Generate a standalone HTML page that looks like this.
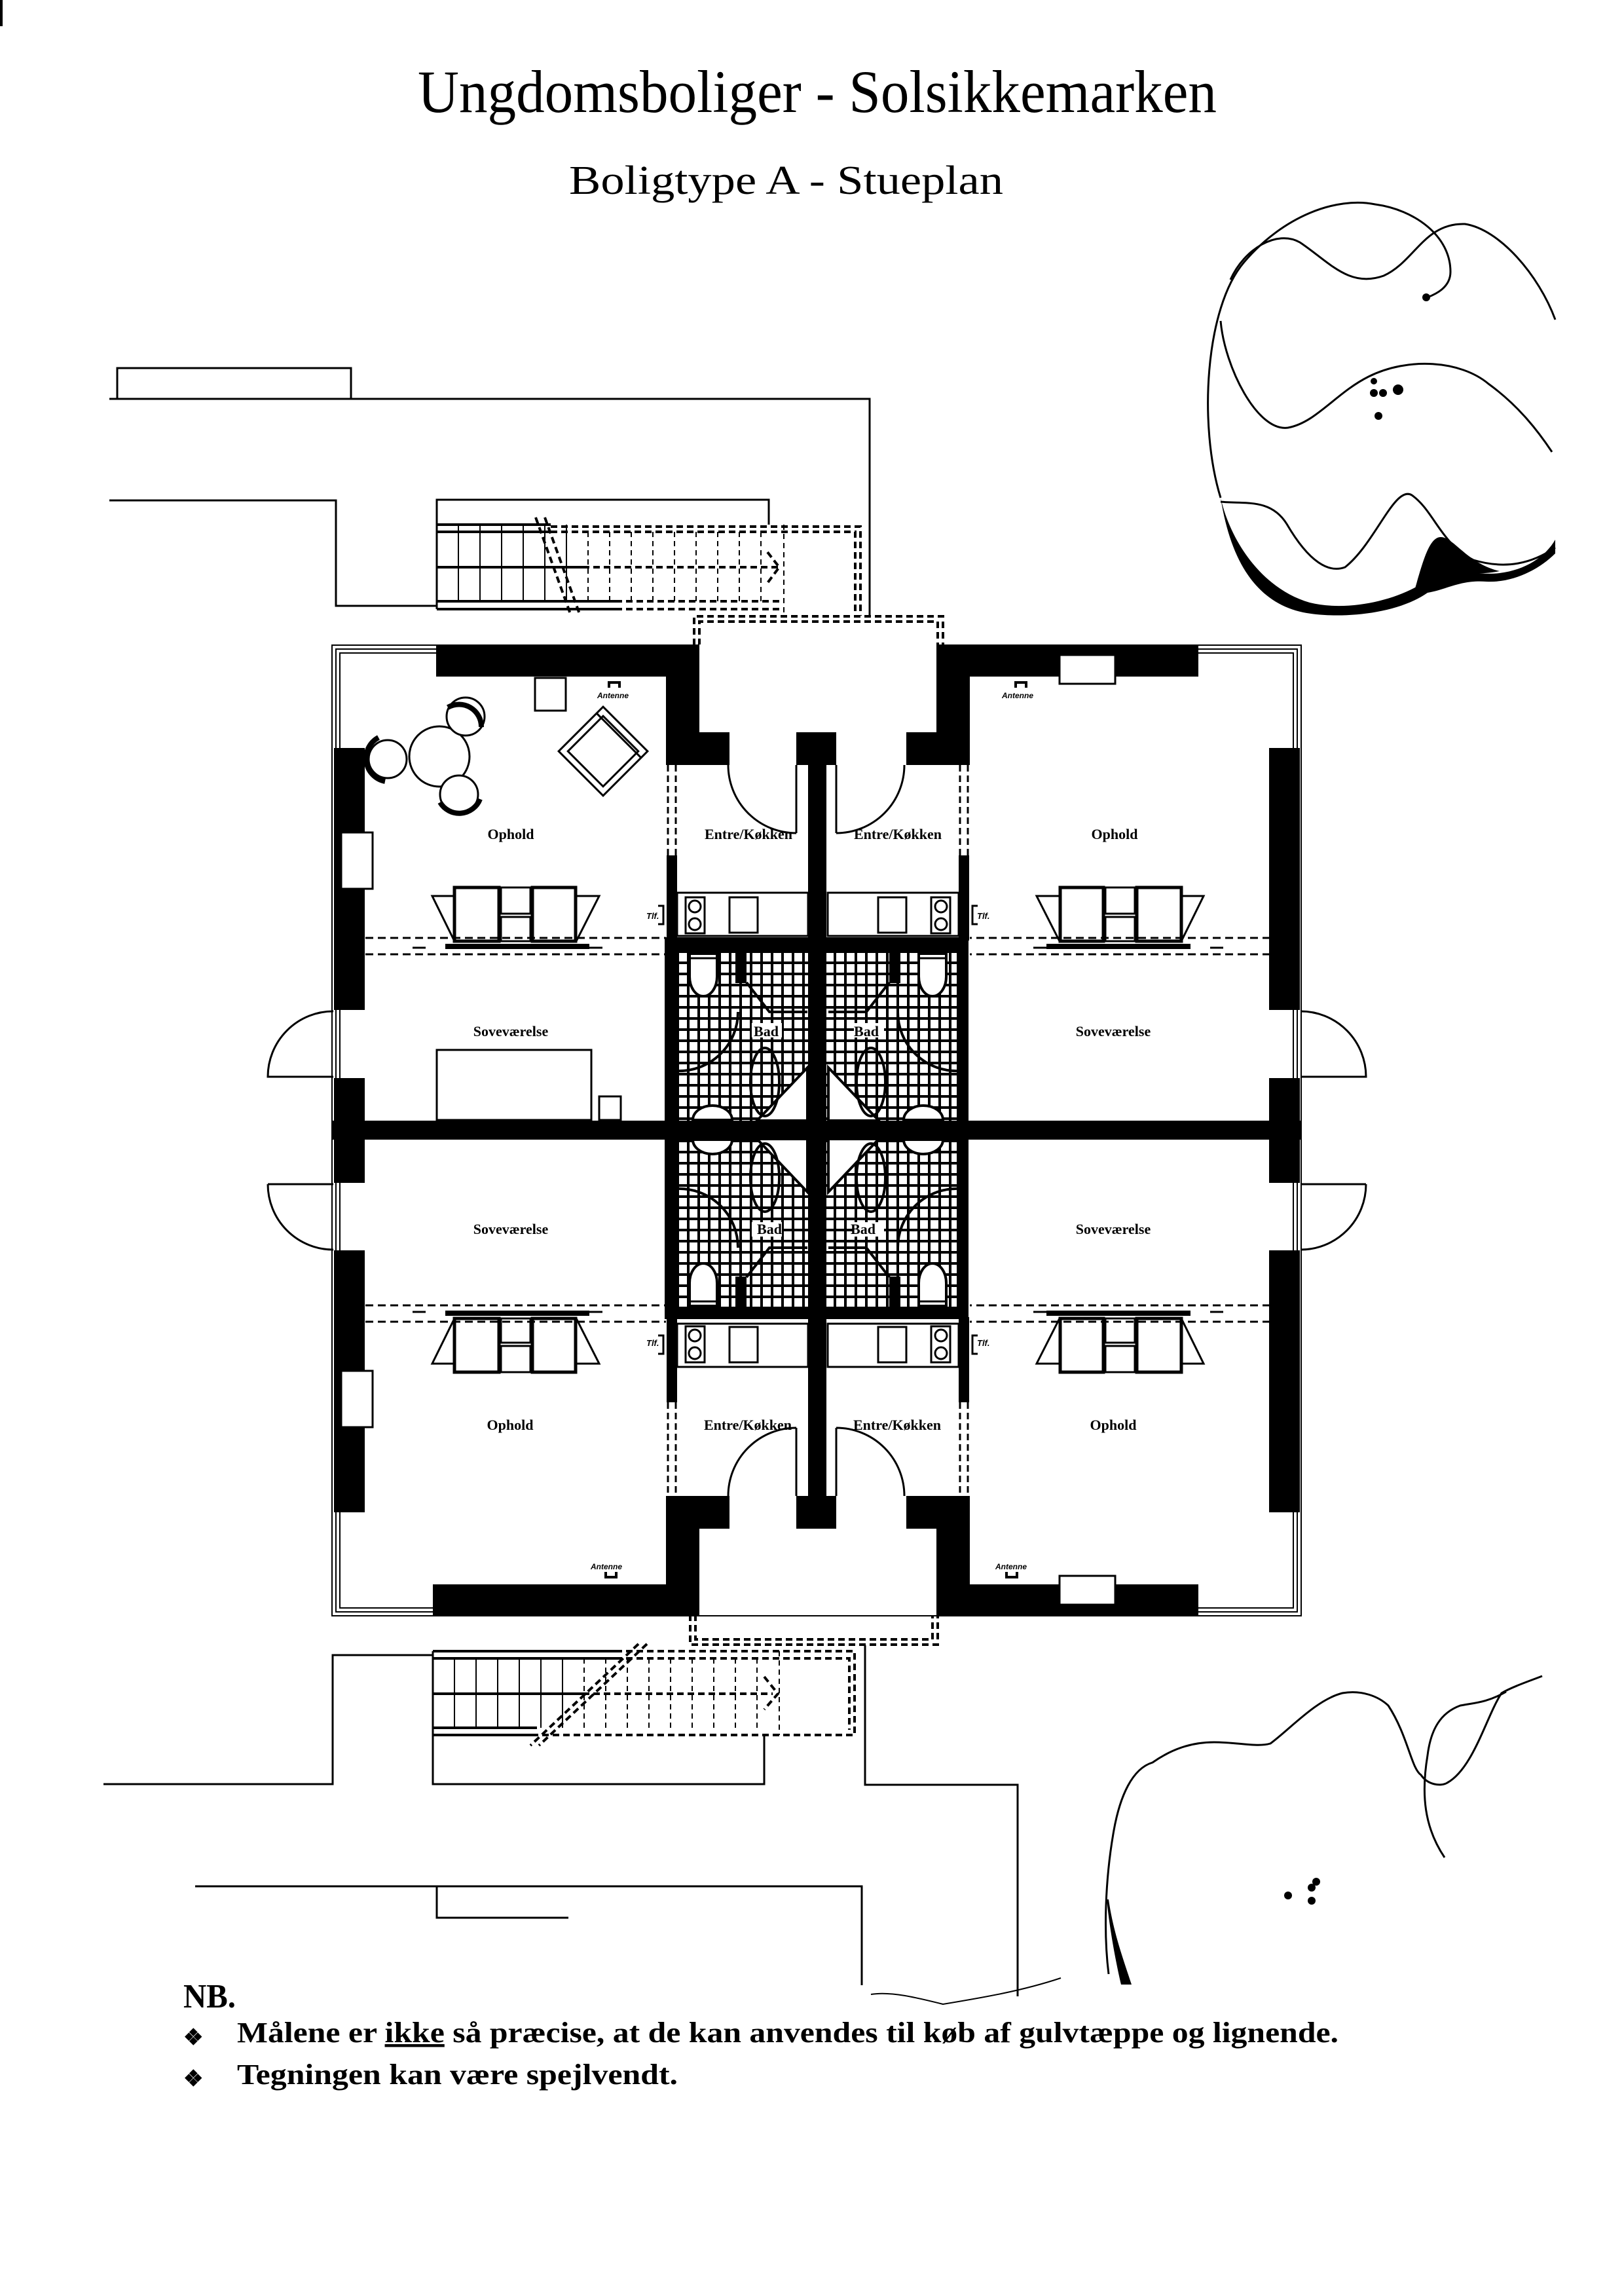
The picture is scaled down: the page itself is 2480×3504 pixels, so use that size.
<!DOCTYPE html>
<html><head><meta charset="utf-8"><style>html,body{margin:0;padding:0;background:#fff}svg{display:block}</style></head>
<body>
<svg xmlns="http://www.w3.org/2000/svg" width="2480" height="3504" viewBox="0 0 2480 3504">
<defs>
<pattern id="grid" x="1033" y="1451" width="16" height="17" patternUnits="userSpaceOnUse">
<rect width="16" height="17" fill="#fff"/><rect x="0" y="0" width="4" height="17" fill="#000"/><rect x="0" y="0" width="16" height="4" fill="#000"/>
</pattern>
<g id="sofa" fill="#fff" stroke="#000">
<polygon points="660,1368 915,1368 880,1437 694,1437" stroke-width="3"/>
<rect x="694" y="1355" width="68" height="82" stroke-width="5"/>
<rect x="813" y="1355" width="66" height="82" stroke-width="5"/>
<rect x="765" y="1355" width="45" height="40" stroke-width="3"/>
<rect x="765" y="1400" width="45" height="37" stroke-width="3"/>
<path d="M558 1432 H1017" stroke-width="3" stroke-dasharray="12,7" fill="none"/>
<path d="M558 1457 H1017" stroke-width="3" stroke-dasharray="12,7" fill="none"/>
<rect x="680" y="1441" width="220" height="8" fill="#000" stroke="none"/>
<path d="M650 1447 h-20 M900 1447 h20" stroke-width="3"/>
</g>
<g id="kit" fill="#fff" stroke="#000" stroke-width="3">
<rect x="1034" y="1363" width="200" height="66"/>
<rect x="1047" y="1370" width="29" height="55"/>
<circle cx="1061" cy="1384" r="9"/><circle cx="1061" cy="1411" r="9"/>
<rect x="1114" y="1370" width="43" height="54"/>
<path d="M1005 1383 h8 v28 h-8" fill="none"/>
</g>
<g id="bath" stroke="#000">
<path d="M1053 1456 h42 v35 a21 30 0 0 1 -42 0 z" fill="#fff" stroke-width="4"/>
<path d="M1053 1463 h42" stroke-width="3"/>
<path d="M1058 1710 a30 22 0 0 1 60 0 z" fill="#fff" stroke-width="4"/>
<rect x="1123" y="1451" width="17" height="50" fill="#000" stroke="none"/>
<polygon points="1233,1630 1156,1711 1233,1711" fill="#fff" stroke-width="4"/>
<ellipse cx="1168" cy="1652" rx="22" ry="52" fill="none" stroke-width="4"/>
<path d="M1140 1500 L1175 1545 H1233" fill="none" stroke-width="4"/>
<path d="M1127 1545 A90 90 0 0 1 1033 1635" fill="none" stroke-width="4"/>
<rect x="1021" y="1546" width="7" height="90" fill="#fff" stroke="none"/>
<rect x="1148" y="1562" width="46" height="22" fill="#fff" stroke="none"/>
</g>
</defs>

<text x="638" y="171" font-family="Liberation Serif, serif" font-size="92" textLength="1220" lengthAdjust="spacingAndGlyphs">Ungdomsboliger - Solsikkemarken</text>
<text x="869" y="296" font-family="Liberation Serif, serif" font-size="62" textLength="663" lengthAdjust="spacingAndGlyphs">Boligtype A  - Stueplan</text>

<g fill="none" stroke="#000" stroke-width="3">
<path d="M179 609 V562 H536 V609"/>
<path d="M167 609 H1328 V940"/>
<path d="M167 764 H513 V925 H667"/>
<path d="M667 801 V763 H1174 V801"/>
<path d="M667 801 H841 M667 812 H841 M667 866 H890 M667 918 H940 M667 930 H940" stroke-width="4"/>
<path d="M667 801 V930"/>
</g>
<g fill="none" stroke="#000" stroke-width="2">
<path d="M700 801 V918 M733 801 V918 M766 801 V918 M799 801 V918 M832 801 V918 M865 801 V918"/>
<g stroke-dasharray="8,6"><path d="M898 812 V918 M931 812 V918 M964 812 V918 M997 812 V918 M1030 812 V918 M1063 812 V918 M1096 812 V918 M1129 812 V918 M1162 812 V918 M1197 801 V940"/></g>
<g stroke-dasharray="10,6" stroke-width="4"><path d="M841 804 H1314 V940 M841 812 H1306 V940 M890 866 H1190 M940 918 H1197 M940 930 H1197 M1172 843 L1190 866 L1172 890"/>
<path d="M1060 985 V941 H1440 V985 M1068 985 V949 H1432 V985"/>
<path d="M818 790 L872 940 M832 790 L886 940"/></g>
</g>

<g fill="none" stroke="#000" stroke-width="3">
<path d="M158 2724 H508 V2527 H661"/>
<path d="M661 2521 V2724 H1167 V2649"/>
<path d="M661 2521 H940 M661 2532 H940 M661 2586 H890 M661 2638 H820 M661 2649 H820" stroke-width="4"/>
<path d="M1321 2512 V2725 H1554 V3048"/>
<path d="M298 2880 H1316 V3031"/>
<path d="M667 2880 V2928 H868"/>
</g>
<g fill="none" stroke="#000" stroke-width="2">
<path d="M694 2532 V2638 M727 2532 V2638 M760 2532 V2638 M793 2532 V2638 M826 2532 V2638 M859 2532 V2638"/>
<g stroke-dasharray="8,6"><path d="M892 2532 V2638 M925 2532 V2638 M958 2532 V2638 M991 2532 V2638 M1024 2532 V2638 M1057 2532 V2638 M1090 2532 V2638 M1123 2532 V2638 M1156 2532 V2638 M1190 2521 V2649"/></g>
<g stroke-dasharray="10,6" stroke-width="4"><path d="M940 2521 H1305 V2649 H820 M940 2532 H1297 V2641 M890 2586 H1180 M1167 2560 L1188 2586 L1167 2610"/>
<path d="M1054 2465 V2511 H1432 V2465 M1062 2465 V2503 H1424 V2465"/>
<path d="M975 2510 L810 2665 M988 2510 L823 2665"/></g>
</g>

<g fill="none" stroke="#000" stroke-width="2">
<rect x="507" y="985" width="1480" height="1482"/>
<rect x="513" y="991" width="1468" height="1470"/>
<rect x="519" y="997" width="1456" height="1458"/>
</g>
<rect x="1068" y="984" width="362" height="134" fill="#fff"/>
<rect x="1068" y="2332" width="362" height="134" fill="#fff"/>

<rect x="1017" y="1435" width="460" height="576" fill="url(#grid)"/>
<use href="#bath"/>
<use href="#bath" transform="translate(2498,0) scale(-1,1)"/>
<use href="#bath" transform="translate(0,3450) scale(1,-1)"/>
<use href="#bath" transform="translate(2498,3450) scale(-1,-1)"/>

<g fill="#000">
<rect x="666" y="985" width="392" height="48"/>
<rect x="1433" y="985" width="397" height="48"/>
<rect x="661" y="2419" width="397" height="48"/>
<rect x="1433" y="2419" width="397" height="48"/>
<rect x="1017" y="985" width="51" height="182"/>
<rect x="1430" y="985" width="51" height="182"/>
<rect x="1017" y="2285" width="51" height="182"/>
<rect x="1430" y="2285" width="51" height="182"/>
<rect x="1017" y="1118" width="97" height="50"/>
<rect x="1384" y="1118" width="97" height="50"/>
<rect x="1017" y="2284" width="97" height="50"/>
<rect x="1384" y="2284" width="97" height="50"/>
<rect x="1216" y="1118" width="61" height="50"/>
<rect x="1216" y="2284" width="61" height="50"/>
<rect x="1234" y="1118" width="28" height="1216"/>
<rect x="507" y="1711" width="1480" height="29"/>
<rect x="510" y="1142" width="47" height="400"/>
<rect x="510" y="1646" width="47" height="160"/>
<rect x="510" y="1909" width="47" height="400"/>
<rect x="1938" y="1142" width="47" height="400"/>
<rect x="1938" y="1646" width="47" height="160"/>
<rect x="1938" y="1909" width="47" height="400"/>
<rect x="1018" y="1306" width="16" height="130"/>
<rect x="1464" y="1306" width="16" height="130"/>
<rect x="1018" y="2011" width="16" height="130"/>
<rect x="1464" y="2011" width="16" height="130"/>
<rect x="1017" y="1431" width="460" height="20"/>
<rect x="1017" y="1996" width="460" height="18"/>
<rect x="1015" y="1431" width="18" height="583"/>
<rect x="1461" y="1431" width="18" height="583"/>
</g>
<g fill="none" stroke="#000" stroke-width="3" stroke-dasharray="10,6">
<path d="M1020 1168 V1306 M1032 1168 V1306 M1466 1168 V1306 M1478 1168 V1306"/>
<path d="M1020 2141 V2284 M1032 2141 V2284 M1466 2141 V2284 M1478 2141 V2284"/>
</g>
<g fill="#fff" stroke="#000" stroke-width="3">
<rect x="521" y="1271" width="48" height="86"/>
<rect x="521" y="2093" width="48" height="86"/>
<rect x="1618" y="1000" width="85" height="44"/>
<rect x="1618" y="2406" width="85" height="44"/>
</g>
<g fill="none" stroke="#000" stroke-width="3">
<path d="M509 1544 A100 100 0 0 0 409 1644 H509"/>
<path d="M409 1808 H509 M409 1808 A100 100 0 0 0 509 1908"/>
<path d="M1986 1544 A100 100 0 0 1 2086 1644 H1986"/>
<path d="M2086 1808 H1986 M2086 1808 A100 100 0 0 1 1986 1908"/>
<path d="M1216 1168 V1272 M1216 1272 A104 104 0 0 1 1112 1168"/>
<path d="M1277 1168 V1272 M1277 1272 A104 104 0 0 0 1381 1168"/>
<path d="M1216 2284 V2180 M1216 2180 A104 104 0 0 0 1112 2284"/>
<path d="M1277 2284 V2180 M1277 2180 A104 104 0 0 1 1381 2284"/>
</g>

<use href="#sofa"/>
<use href="#sofa" transform="translate(2498,0) scale(-1,1)"/>
<use href="#sofa" transform="translate(0,3450) scale(1,-1)"/>
<use href="#sofa" transform="translate(2498,3450) scale(-1,-1)"/>
<use href="#kit"/>
<use href="#kit" transform="translate(2498,0) scale(-1,1)"/>
<use href="#kit" transform="translate(0,3450) scale(1,-1)"/>
<use href="#kit" transform="translate(2498,3450) scale(-1,-1)"/>
<g font-family="Liberation Sans, sans-serif" font-size="13" font-style="italic" font-weight="bold">
<text x="987" y="1403">Tlf.</text><text x="1492" y="1403">Tlf.</text>
<text x="987" y="2055">Tlf.</text><text x="1492" y="2055">Tlf.</text>
</g>

<g fill="#fff" stroke="#000" stroke-width="3">
<circle cx="671" cy="1155" r="46"/>
<circle cx="711" cy="1094" r="29"/>
<circle cx="592" cy="1159" r="29"/>
<circle cx="701" cy="1213" r="29"/>
<rect x="817" y="1035" width="47" height="50"/>
<rect x="667" y="1603" width="236" height="107"/>
<rect x="915" y="1674" width="33" height="36"/>
<g transform="rotate(45 921 1147)"><rect x="873" y="1099" width="96" height="96"/><rect x="883" y="1109" width="76" height="76"/><path d="M873 1113 H969"/></g>
</g>
<g fill="none" stroke="#000" stroke-width="8">
<path d="M684 1080 A34 34 0 0 1 735 1110"/>
<path d="M578 1126 A36 36 0 0 0 588 1193"/>
<path d="M672 1225 A34 34 0 0 0 733 1220"/>
</g>

<g fill="none" stroke="#000" stroke-width="4">
<path d="M930 1050 v-8 h16 v8"/><path d="M1551 1050 v-8 h16 v8"/>
<path d="M925 2400 v8 h16 v-8"/><path d="M1537 2400 v8 h16 v-8"/>
</g>
<g font-family="Liberation Sans, sans-serif" font-size="12" font-style="italic" font-weight="bold">
<text x="912" y="1066">Antenne</text><text x="1530" y="1066">Antenne</text>
<text x="902" y="2396">Antenne</text><text x="1520" y="2396">Antenne</text>
</g>

<g font-family="Liberation Serif, serif" font-size="22" font-weight="bold" text-anchor="middle">
<text x="780" y="1281">Ophold</text>
<text x="1143" y="1281">Entre/Køkken</text>
<text x="1371" y="1281">Entre/Køkken</text>
<text x="1702" y="1281">Ophold</text>
<text x="780" y="1582">Soveværelse</text>
<text x="1170" y="1582">Bad</text>
<text x="1323" y="1582">Bad</text>
<text x="1700" y="1582">Soveværelse</text>
<text x="780" y="1884">Soveværelse</text>
<text x="1175" y="1884">Bad</text>
<text x="1318" y="1884">Bad</text>
<text x="1700" y="1884">Soveværelse</text>
<text x="779" y="2183">Ophold</text>
<text x="1142" y="2183">Entre/Køkken</text>
<text x="1370" y="2183">Entre/Køkken</text>
<text x="1700" y="2183">Ophold</text>
</g>

<g fill="none" stroke="#000" stroke-width="3">
<path d="M1864 760 C1830 650 1840 470 1900 400 C1960 330 2040 300 2100 312 C2160 320 2215 360 2215 415 C2215 440 2190 450 2180 454"/>
<path d="M1879 427 C1900 380 1950 350 1985 370 C2030 400 2060 440 2113 421 C2160 400 2175 340 2237 342 C2290 350 2350 420 2375 488"/>
<path d="M1864 490 C1870 560 1920 660 1967 653 C2010 645 2040 600 2090 575 C2150 545 2230 550 2273 586 C2320 620 2350 660 2370 690"/>
<path d="M1864 766 C1900 770 1940 760 1965 800 C2000 860 2030 875 2054 866 C2100 830 2130 740 2156 756 C2190 780 2200 830 2250 855 C2300 870 2340 860 2375 836"/>
</g>
<path d="M1864 760 C1880 830 1930 900 2000 920 C2060 935 2140 915 2180 885 C2210 860 2250 880 2290 875 C2330 870 2360 850 2375 824 L2375 845 C2350 870 2310 890 2270 888 C2230 885 2210 900 2180 905 C2130 940 2040 945 1990 935 C1920 920 1880 860 1864 760 Z" fill="#000"/>
<path d="M2156 915 C2170 870 2180 820 2200 820 C2220 820 2240 860 2290 872 C2250 880 2220 870 2200 878 C2180 885 2170 900 2156 915 Z" fill="#000"/>
<g fill="#000"><circle cx="2178" cy="454" r="6"/><circle cx="2098" cy="582" r="5"/><circle cx="2098" cy="600" r="6"/><circle cx="2112" cy="600" r="6"/><circle cx="2135" cy="595" r="8"/><circle cx="2105" cy="635" r="6"/></g>

<g fill="none" stroke="#000" stroke-width="3">
<path d="M1693 3014 C1685 2950 1688 2870 1700 2800 C1710 2740 1730 2700 1760 2691 C1790 2670 1820 2660 1854 2660 C1890 2660 1920 2668 1940 2662 C1970 2640 2010 2595 2050 2585 C2080 2580 2105 2590 2120 2604 C2150 2650 2155 2700 2170 2710 C2180 2725 2200 2728 2210 2722 C2250 2700 2270 2620 2293 2585 C2310 2575 2340 2565 2355 2559"/>
<path d="M2300 2583 C2270 2600 2250 2600 2230 2604 C2200 2615 2185 2640 2180 2680 C2170 2740 2175 2790 2206 2836"/>
</g>
<path d="M1690 2900 C1695 2950 1705 3000 1712 3030 L1728 3030 C1715 2990 1700 2950 1693 2900 Z" fill="#000"/>
<g fill="#000"><circle cx="1967" cy="2894" r="6"/><circle cx="2003" cy="2882" r="6"/><circle cx="2010" cy="2873" r="6"/><circle cx="2003" cy="2902" r="6"/></g>
<path d="M1330 3045 C1360 3040 1400 3050 1440 3060 C1500 3050 1560 3040 1620 3020" fill="none" stroke="#000" stroke-width="2"/>

<text x="280" y="3065" font-family="Liberation Serif, serif" font-size="52" font-weight="bold" textLength="80" lengthAdjust="spacingAndGlyphs">NB.</text>
<g font-family="Liberation Serif, serif" font-size="44" font-weight="bold">
<text x="280" y="3122" font-size="34">❖</text>
<text x="362" y="3118" textLength="1682" lengthAdjust="spacingAndGlyphs">Målene er <tspan text-decoration="underline">ikke</tspan> så præcise, at de kan anvendes til køb af gulvtæppe og lignende.</text>
<text x="280" y="3185" font-size="34">❖</text>
<text x="362" y="3182" textLength="673" lengthAdjust="spacingAndGlyphs">Tegningen kan være spejlvendt.</text>
</g>
<rect x="0" y="0" width="4" height="40" fill="#000"/>
</svg>
</body></html>
